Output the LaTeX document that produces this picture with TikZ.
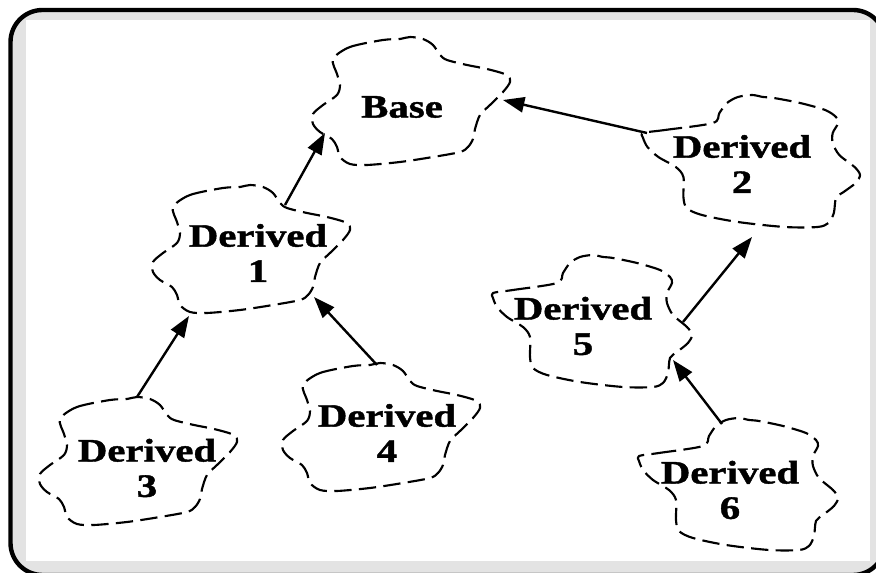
\documentclass[tikz,border=0pt]{standalone}
\usepackage{fontspec}
\newfontfamily\lblfont[FakeStretch=1.25, BoldFeatures={FakeBold=1.3}]{Liberation Serif}
\usetikzlibrary{arrows.meta,calc}
\definecolor{framegray}{gray}{0.89}
\tikzset{
  cloudline/.style={line width=1.6pt, dash pattern=on 13pt off 5.5pt, line join=round},
  lbl/.style={font=\lblfont\bfseries\fontsize{24.5}{26.5}\selectfont, align=center, inner sep=0pt},
  link/.style={line width=1.8pt, -{Triangle[length=16pt,width=11.5pt]}},
  cloudA/.pic={\draw[cloudline] plot[smooth cycle, tension=0.5] coordinates {
    (-78,-42) (-61,-54) (-28,-61) (-11,-62) (-1,-64) (12,-62) (22,-56) (29,-46)
    (36,-41) (56,-36) (76,-32) (96,-26) (99,-19) (92,-9) (79,4) (69,14) (64,28)
    (62,38) (57,46) (49,51) (22,56) (-11,61) (-44,64) (-61,63) (-71,56) (-74,46)
    (-79,38) (-91,31) (-98,23) (-98,13) (-88,4) (-74,-6) (-71,-16) (-74,-27)};},
  cloudB/.pic={\draw[cloudline] plot[smooth cycle, tension=0.5] coordinates {
    (-99,-28) (-79,-31) (-35,-38) (-29,-48) (-22,-58) (-12,-64) (1,-66) (11,-64)
    (21,-63) (45,-58) (68,-51) (78,-44) (80,-38) (75,-28) (75,-18) (81,-6) (95,6)
    (100,14) (96,22) (85,31) (78,37) (76,52) (71,62) (61,66) (31,66) (-12,61)
    (-45,54) (-59,47) (-62,36) (-62,16) (-69,6) (-85,-4) (-95,-14) (-99,-23)};},
}
\begin{document}
\begin{tikzpicture}[x=0.75pt,y=-0.75pt]
\useasboundingbox (0,0) rectangle (876,573);
% frame
\fill[framegray, rounded corners=24] (10.5,10) rectangle (885,575);
\fill[white] (26,20) rectangle (870,561);
\draw[line width=3.3pt, rounded corners=24] (10.5,10) rectangle (885,575);
% cloud centres
\coordinate (cBase) at (411,101);
\coordinate (c1) at (251,249);
\coordinate (c2) at (751,161);
\coordinate (c3) at (138,461);
\coordinate (c4) at (381,427);
\coordinate (c5) at (592,321);
\coordinate (c6) at (738,484);
% clouds
\pic at (cBase) {cloudA};
\pic at (c1) {cloudA};
\pic at (c3) {cloudA};
\pic at (c4) {cloudA};
\pic[xscale=1.09] at (c2) {cloudB};
\pic at (c5) {cloudB};
\pic at (c6) {cloudB};
% labels
\node[lbl] (base) at ($(cBase)+(-9,6)$) {Base};
\node[lbl] (d1) at ($(c1)+(7,4)$) {Derived\\1};
\node[lbl] (d2) at ($(c2)+(-9,3)$) {Derived\\2};
\node[lbl] (d3) at ($(c3)+(9,7)$) {Derived\\3};
\node[lbl] (d4) at ($(c4)+(6,6)$) {Derived\\4};
\node[lbl] (d5) at ($(c5)+(-9,5)$) {Derived\\5};
\node[lbl] (d6) at ($(c6)+(-8,6)$) {Derived\\6};
% connector ends
\coordinate (a1s) at ($(c1)+(34,-44)$);   \coordinate (a1e) at ($(cBase)+(-86,32)$);
\coordinate (a2s) at ($(c2)+(-104,-28)$); \coordinate (a2e) at ($(cBase)+(92,-1)$);
\coordinate (a3s) at ($(c3)+(-1,-64)$);   \coordinate (a3e) at ($(c1)+(-62,67)$);
\coordinate (a4s) at ($(c4)+(-4,-62)$);   \coordinate (a4e) at ($(c1)+(63,48)$);
\coordinate (a5s) at ($(c5)+(91,1)$);     \coordinate (a5e) at ($(c2)+(1,76)$);
\coordinate (a6s) at ($(c6)+(-16,-60)$);  \coordinate (a6e) at ($(c5)+(81,39)$);
\draw[link] (a1s) -- (a1e);
\draw[link] (a2s) -- (a2e);
\draw[link] (a3s) -- (a3e);
\draw[link] (a4s) -- (a4e);
\draw[link] (a5s) -- (a5e);
\draw[link] (a6s) -- (a6e);
\end{tikzpicture}
\end{document}
